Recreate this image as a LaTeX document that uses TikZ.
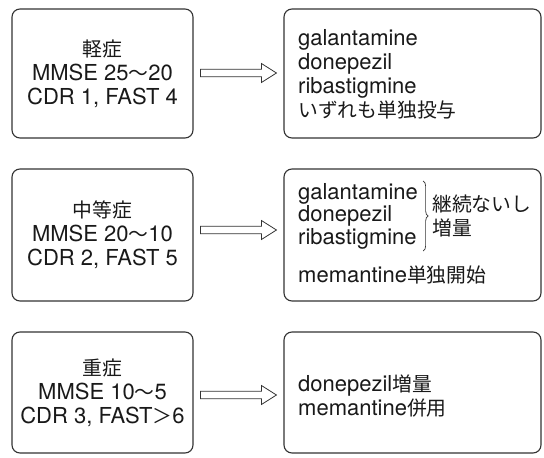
\documentclass[tikz,border=0pt]{standalone}
\usepackage{fontspec}
\setmainfont{TeX Gyre Heros}
\newfontfamily\jp[Scale=0.9]{Noto Sans CJK JP}
\usetikzlibrary{positioning,calc,decorations.pathreplacing}

\begin{document}
\begin{tikzpicture}[x=1pt,y=-1pt,
    stage/.style={draw=black!80,line width=1.1pt,rounded corners=8pt,minimum width=181pt,align=center,font=\fontsize{22}{24}\selectfont,text=black!90},
    therapy/.style={draw=black!80,line width=1.1pt,rounded corners=8pt,minimum width=257pt},
    drugtext/.style={anchor=west,align=left,inner sep=0pt,font=\fontsize{22}{24}\selectfont,text=black!90},
    hollow/.style={draw=black!80,line width=0.8pt,fill=white,line join=miter}
  ]
    \useasboundingbox (0,0) rectangle (544,458);

    % Stage boxes (left)
    \node[stage,minimum height=129pt] (mild) at (102.5,73.5) {{\jp 軽症}\\MMSE 25{\jp ～}20\\CDR 1, FAST 4};
    \node[stage,minimum height=132pt] (moderate) at (102.5,235) {{\jp 中等症}\\MMSE 20{\jp ～}10\\CDR 2, FAST 5};
    \node[stage,minimum height=121pt] (severe) at (102.5,392.5) {{\jp 重症}\\MMSE 10{\jp ～}5\\CDR 3, FAST{\jp ＞}6};

    % Therapy boxes (right)
    \node[therapy,minimum height=129pt] (rmild) at (412.5,73.5) {};
    \node[therapy,minimum height=132pt] (rmoderate) at (412.5,235) {};
    \node[therapy,minimum height=121pt] (rsevere) at (412.5,392.5) {};

    % Box texts
    \node[drugtext] (tmild) at (298,74) {galantamine\\donepezil\\ribastigmine\\{\jp いずれも単独投与}};
    \node[drugtext,font=\fontsize{22}{22.5}\selectfont] (tlist) at (298,216) {galantamine\\donepezil\\ribastigmine};
    \draw[black!80,line width=0.7pt,decorate,decoration={brace,amplitude=5pt}] ($(tlist.north east)+(5,-2)$) -- ($(tlist.south east)+(5,2)$);
    \node[drugtext] (tcont) at (432,216) {{\jp 継続ないし}\\{\jp 増量}};
    \node[drugtext] (tmem) at (298,275) {memantine{\jp 単独開始}};
    \node[drugtext] (tsevere) at (298,396.5) {donepezil{\jp 増量}\\memantine{\jp 併用}};

    % Hollow arrows
    \foreach \a/\b/\dy in {mild/rmild/-0.5,moderate/rmoderate/-5,severe/rsevere/2.5} {
      \draw[hollow] ($(\a.east)+(7,\dy-3.75)$) -- ($(\b.west)+(-22,\dy-3.75)$) -- ($(\b.west)+(-22,\dy-9.5)$)
        -- ($(\b.west)+(-7,\dy)$) -- ($(\b.west)+(-22,\dy+9.5)$) -- ($(\b.west)+(-22,\dy+3.75)$)
        -- ($(\a.east)+(7,\dy+3.75)$) -- cycle;
    }
  \end{tikzpicture}
\end{document}
